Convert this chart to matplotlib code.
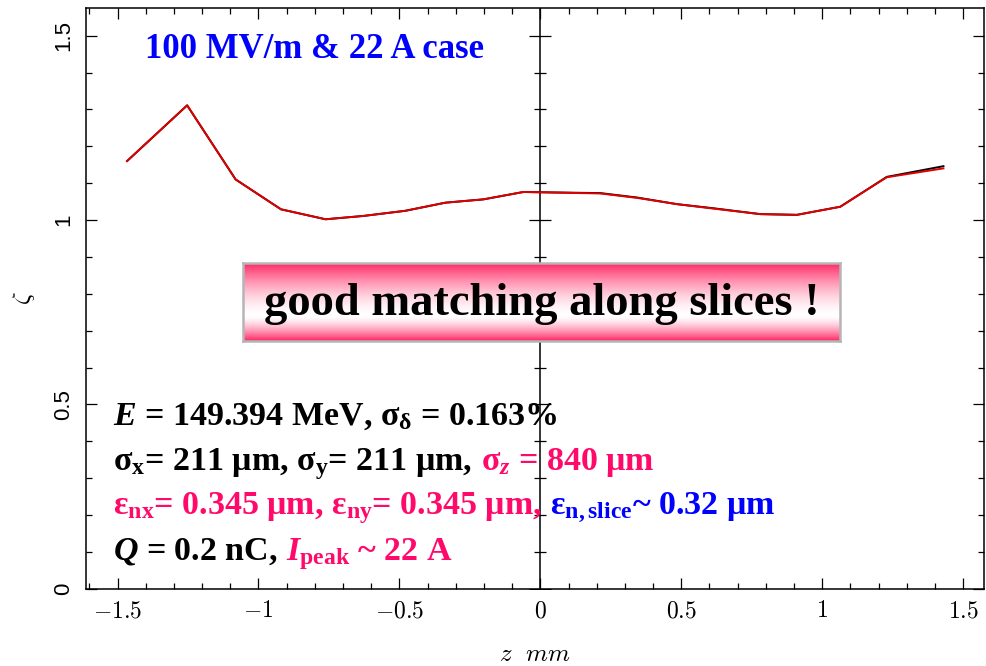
import numpy as np
import matplotlib
matplotlib.use('Agg')
import matplotlib.pyplot as plt
from matplotlib import transforms
from matplotlib.ticker import FixedLocator, FixedFormatter, MultipleLocator

# ---------------- data ----------------
z_mm = [-1.466, -1.253, -1.081, -0.920, -0.762, -0.628, -0.479, -0.337,
        -0.202, -0.060, 0.213, 0.343, 0.485, 0.613, 0.780, 0.910, 1.064,
        1.229, 1.430]
zeta_black = [1.160, 1.311, 1.110, 1.029, 1.002, 1.011, 1.025, 1.047,
              1.056, 1.076, 1.073, 1.061, 1.043, 1.032, 1.016, 1.014, 1.036,
              1.117, 1.146]
zeta_red = [1.160, 1.311, 1.110, 1.029, 1.002, 1.011, 1.025, 1.047,
            1.056, 1.076, 1.072, 1.060, 1.043, 1.031, 1.016, 1.014, 1.036,
            1.116, 1.140]

x_major = [-1.5, -1.0, -0.5, 0.0, 0.5, 1.0, 1.5]
x_labels = [r'$\mathrm{-1.5}$', r'$\mathrm{-1}$', r'$\mathrm{-0.5}$', r'$\mathrm{0}$',
            r'$\mathrm{0.5}$', r'$\mathrm{1}$', r'$\mathrm{1.5}$']
y_major = [0.0, 0.5, 1.0, 1.5]
y_labels = ['0', '0.5', '1', '1.5']

title_text = '100 MV/m & 22 A case'
banner_text = 'good matching along slices !'

PINK = '#ff0a6a'
BLUE = '#0000ff'

plt.rcParams['mathtext.fontset'] = 'custom'
plt.rcParams['mathtext.rm'] = 'Liberation Serif:bold'
plt.rcParams['mathtext.it'] = 'Liberation Serif:italic:bold'
plt.rcParams['mathtext.bf'] = 'Liberation Serif:bold'

fig = plt.figure(figsize=(9.87, 6.66), dpi=100)
ax = fig.add_axes([0.0868, 0.116, 0.9102, 0.872])

ax.plot(z_mm, zeta_black, color='black', lw=1.4, zorder=3)
ax.plot(z_mm, zeta_red, color='#e00000', lw=1.4, zorder=4)

ax.set_xlim(-1.613, 1.574)
ax.set_ylim(0, 1.575)

ax.xaxis.set_major_locator(FixedLocator(x_major))
ax.xaxis.set_major_formatter(FixedFormatter(x_labels))
ax.xaxis.set_minor_locator(MultipleLocator(0.1))
ax.yaxis.set_major_locator(FixedLocator(y_major))
ax.yaxis.set_major_formatter(FixedFormatter(y_labels))
ax.yaxis.set_minor_locator(MultipleLocator(0.1))

ax.tick_params(which='both', direction='in', top=True, right=True, width=0.9, color='black')
ax.tick_params(which='major', length=8)
ax.tick_params(which='minor', length=4)
ax.tick_params(axis='x', which='major', labelsize=17, pad=7)
ax.tick_params(axis='y', which='major', labelsize=16, pad=8)
for s in ax.spines.values():
    s.set_linewidth(1.1)

for lbl in ax.get_xticklabels():
    lbl.set_math_fontfamily('cm')
for lbl in ax.get_yticklabels():
    lbl.set_family('Liberation Sans')
    lbl.set_rotation(90)
    lbl.set_va('center')

xl = ax.set_xlabel(r'$z\ \ mm$', fontsize=18, labelpad=14)
xl.set_math_fontfamily('cm')
yl = ax.set_ylabel(r'$\zeta$', fontsize=18, labelpad=12)
yl.set_math_fontfamily('cm')

# central vertical line with cross ticks
ax.axvline(0, color='black', lw=1.1, zorder=2)
ymaj = [v for v in ax.yaxis.get_majorticklocs()]
ymin = [v for v in ax.yaxis.get_minorticklocs() if v <= 1.575]
ax.plot(np.zeros(len(ymaj)), ymaj, ls='none', marker='_', ms=16, mew=0.9, color='black', zorder=2)
ax.plot(np.zeros(len(ymin)), ymin, ls='none', marker='_', ms=8, mew=0.9, color='black', zorder=2)

# title
ax.text(0.066, 0.928, title_text, transform=ax.transAxes, color=BLUE,
        family='Liberation Serif', weight='bold', fontsize=25, va='center', ha='left')

# rainbow text lines
renderer = fig.canvas.get_renderer()
ANN_SIZE = 24.5

def rainbow(x, y, pieces, size=ANN_SIZE):
    t = ax.transAxes
    for s, c, gap in pieces:
        txt = ax.text(x, y, s, color=c, transform=t, va='baseline', ha='left',
                      family='Liberation Serif', weight='bold', fontsize=size, zorder=6)
        txt.draw(renderer)
        ex = txt.get_window_extent(renderer)
        t = transforms.offset_copy(txt.get_transform(), x=ex.width + gap * size * 100 / 72.0,
                                   units='dots')

rainbow(0.0304, 0.282, [(r'$\mathit{E}$ = 149.394 MeV, $\mathrm{σ_{δ}}$ = 0.163%', 'black', 0)])
rainbow(0.0304, 0.204, [(r'$\mathrm{σ_{x}}$= 211 μm, $\mathrm{σ_{y}}$= 211 μm,', 'black', 0.25),
                        (r'$\mathrm{σ}_{\mathit{z}}$ = 840 μm', PINK, 0)])
rainbow(0.0304, 0.128, [(r'$\mathrm{ε_{nx}}$= 0.345 μm, $\mathrm{ε_{ny}}$= 0.345 μm,', PINK, 0.25),
                        (r'$\mathrm{ε_{n,slice}}$~ 0.32 μm', BLUE, 0)])
rainbow(0.0304, 0.050, [(r'$\mathit{Q}$ = 0.2 nC,', 'black', 0.25),
                        (r'$\mathit{I}_{\mathrm{peak}}$ ~ 22 A', PINK, 0)])

# gradient banner
bax = fig.add_axes([0.2462, 0.488, 0.6049, 0.117])
n = 200
t = np.linspace(0, 1, n)
w = 0.68
f = np.where(t < w, ((w - t) / w) ** 1.6, ((t - w) / (1 - w)) ** 1.4)
pink = np.array([255, 40, 100]) / 255.0
white = np.array([1.0, 1.0, 1.0])
grad = white[None, :] * (1 - f[:, None]) + pink[None, :] * f[:, None]
bax.imshow(grad[:, None, :], aspect='auto', extent=[0, 1, 0, 1], origin='upper')
bax.set_xticks([])
bax.set_yticks([])
for s in bax.spines.values():
    s.set_color('#b5b5b5')
    s.set_linewidth(1.8)
bax.text(0.5, 0.47, banner_text, transform=bax.transAxes, ha='center', va='center',
         family='Liberation Serif', weight='bold', fontsize=33.5, color='black')

fig.savefig('out.png', dpi=100)
